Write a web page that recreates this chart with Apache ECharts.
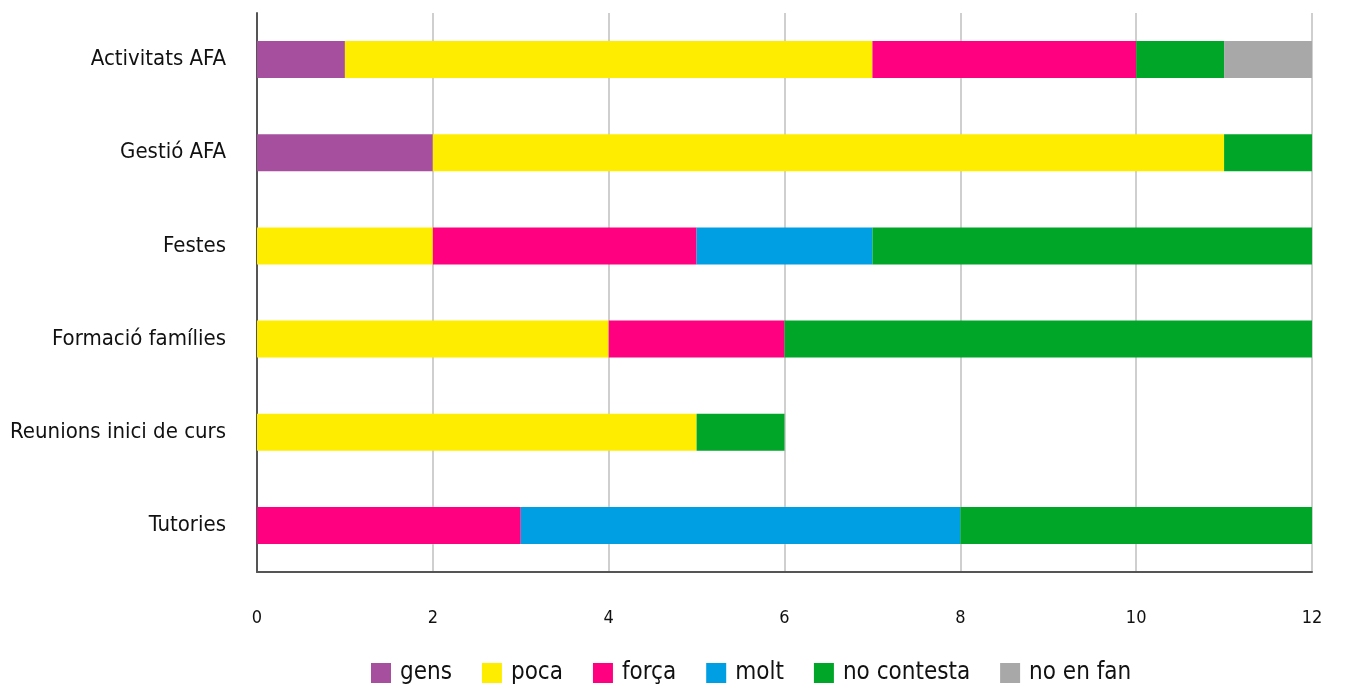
<!DOCTYPE html>
<html>
<head>
<meta charset="utf-8">
<script src="https://cdn.jsdelivr.net/npm/echarts@6/dist/echarts.min.js"></script>
<style>
  html, body { margin: 0; padding: 0; background: #fff; }
  #chart { width: 1346px; height: 687px; }
</style>
</head>
<body>
<div id="chart"></div>
<script>
const categories = ['Activitats AFA', 'Gestió AFA', 'Festes', 'Formació famílies', 'Reunions inici de curs', 'Tutories']
const seriesNames = ['gens', 'poca', 'força', 'molt', 'no contesta', 'no en fan']
const gens = [1, 2, 0, 0, 0, 0]
const poca = [6, 9, 2, 4, 5, 0]
const forca = [3, 0, 3, 2, 0, 3]
const molt = [0, 0, 2, 0, 0, 5]
const noContesta = [1, 1, 5, 6, 1, 4]
const noEnFan = [1, 0, 0, 0, 0, 0]
const colors = ['#A64F9F', '#FFED00', '#FF0080', '#009FE3', '#00A628', '#A8A8A8']

const font = '"Liberation Sans Narrow", "DejaVu Sans Condensed", "Noto Sans", sans-serif'
const values = [gens, poca, forca, molt, noContesta, noEnFan]

const chart = echarts.init(document.getElementById('chart'))

chart.setOption({
  animation: false,
  backgroundColor: '#fff',
  color: colors,
  grid: { left: 257, right: 34, top: 13, bottom: 115, containLabel: false },
  legend: {
    bottom: -3,
    left: 366,
    itemWidth: 20,
    itemHeight: 20,
    itemGap: 30,
    icon: 'rect',
    textStyle: { fontFamily: font, fontSize: 24, color: '#111', padding: [0, 0, 0, 4] },
    data: seriesNames
  },
  xAxis: {
    type: 'value',
    min: 0,
    max: 12,
    interval: 2,
    axisLine: { show: true, lineStyle: { color: '#555', width: 2 } },
    axisTick: { show: false },
    axisLabel: { color: '#111', fontFamily: font, fontSize: 18, margin: 37 },
    splitLine: { show: true, lineStyle: { color: '#cfcfcf', width: 2 } }
  },
  yAxis: {
    type: 'category',
    inverse: true,
    data: categories,
    axisLine: { show: true, lineStyle: { color: '#555', width: 2 } },
    axisTick: { show: false },
    axisLabel: { color: '#111', fontFamily: font, fontSize: 22, margin: 31 }
  },
  series: seriesNames.map((name, i) => ({
    name: name,
    type: 'bar',
    stack: 'total',
    barWidth: 37,
    data: values[i].map(v => v === 0 ? null : v)
  }))
})
</script>
</body>
</html>
